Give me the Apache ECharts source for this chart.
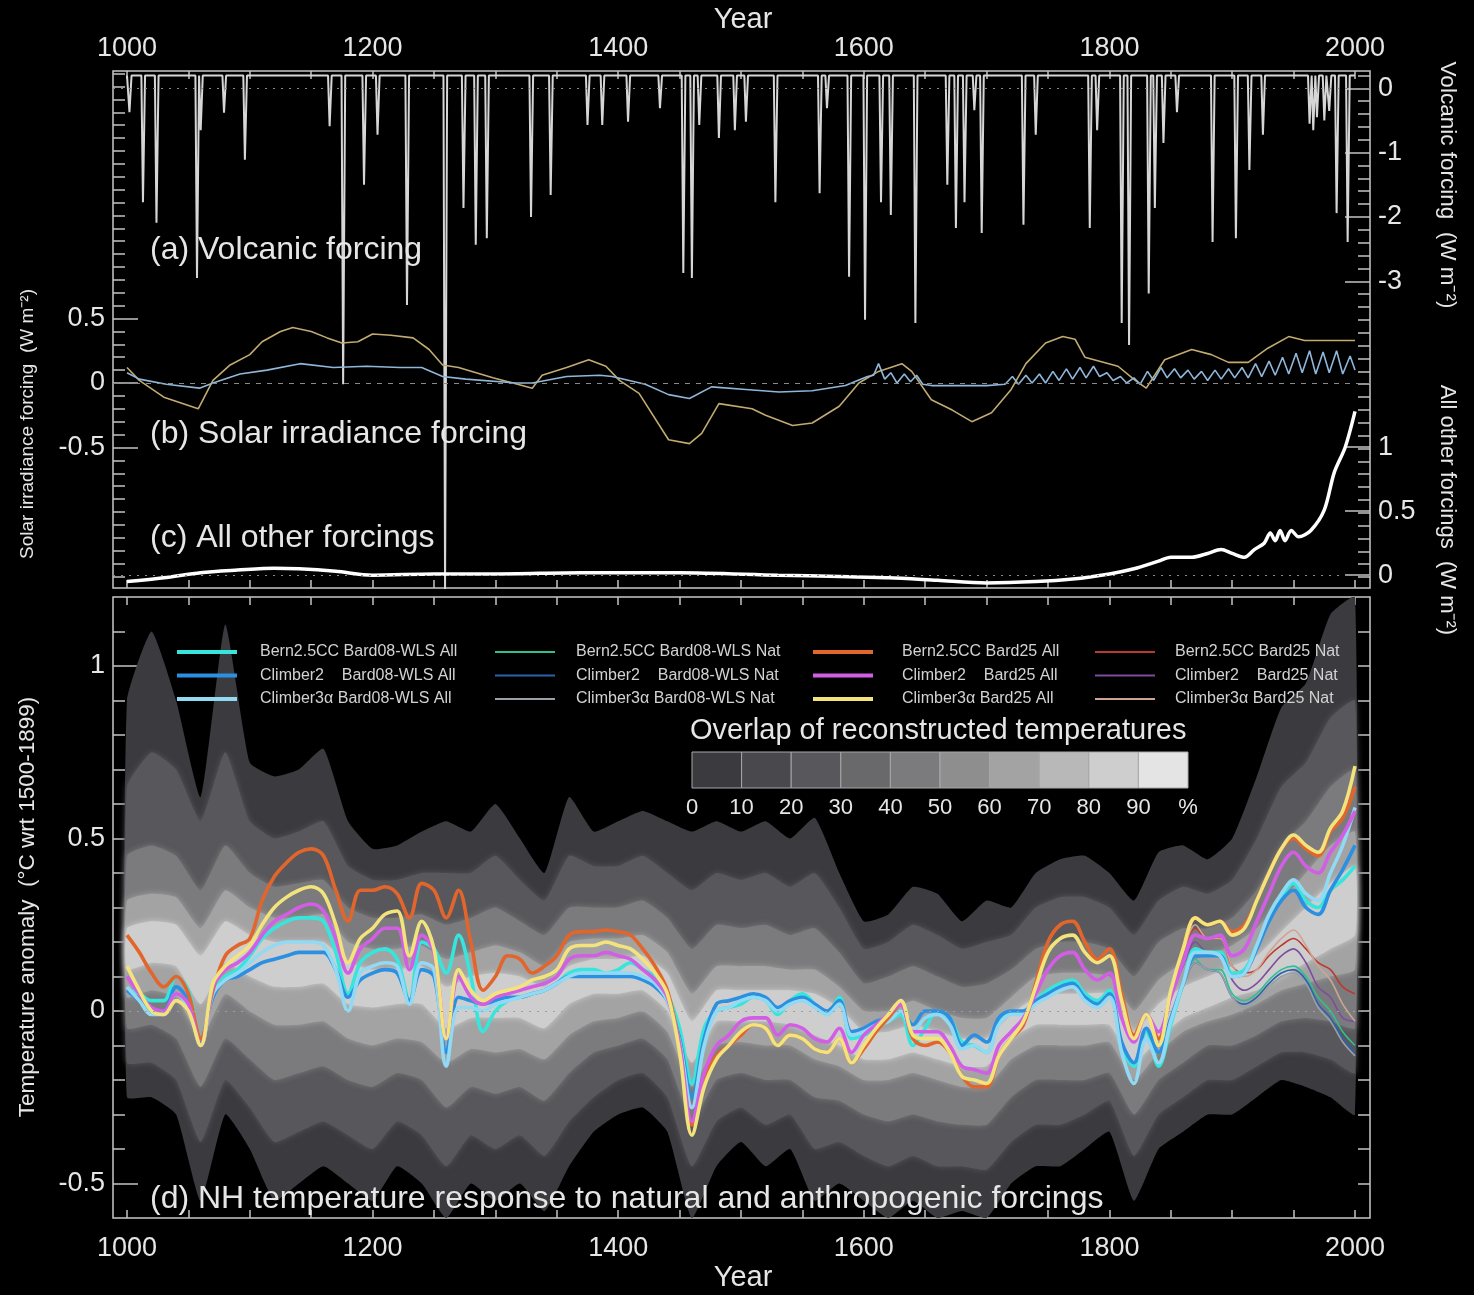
<!DOCTYPE html>
<html>
<head>
<meta charset="utf-8">
<script src="https://cdn.jsdelivr.net/npm/echarts@6/dist/echarts.min.js"></script>
<style>
  html, body { margin: 0; padding: 0; background: #000; }
  #chart { width: 1474px; height: 1295px; }
</style>
</head>
<body>
<div id="chart"></div>
<script>
// ---------------------------------------------------------------
// Forcings (panels a-c) and NH temperature response (panel d)
// ---------------------------------------------------------------

// axis ticks and labels
const yearLabels = [1000, 1200, 1400, 1600, 1800, 2000];
const yearTicks = [1000, 1050, 1100, 1150, 1200, 1250, 1300, 1350, 1400, 1450, 1500,
                   1550, 1600, 1650, 1700, 1750, 1800, 1850, 1900, 1950, 2000];
const solarLabels = [-0.5, 0, 0.5];
const volcLabels = [0, -1, -2, -3];
const otherLabels = [0, 0.5, 1];
const tempLabels = [-0.5, 0, 0.5, 1];
const overlapLabels = ['0', '10', '20', '30', '40', '50', '60', '70', '80', '90', '%'];

// (a) volcanic forcing: background level and eruption peaks [year, W m-2]
const volcBase = 0.2;
const volcEvents = [
  [1002, -0.37], [1013, -1.77], [1024, -2.09], [1057, -2.95], [1060, -0.65], [1079, -0.38],
  [1096, -1.11], [1165, -0.59], [1176, -4.6], [1193, -1.5], [1204, -0.72], [1228, -3.37],
  [1259, -7.8], [1274, -1.86], [1284, -2.43], [1293, -2.33], [1329, -2.0], [1345, -1.66],
  [1375, -0.57], [1387, -0.57], [1408, -0.52], [1434, -0.31], [1453, -2.87], [1460, -2.95],
  [1466, -0.57], [1482, -0.77], [1495, -0.65], [1504, -0.52], [1528, -1.77], [1564, -1.63],
  [1570, -0.31], [1588, -2.93], [1601, -3.6], [1614, -1.77], [1622, -1.97], [1642, -3.65],
  [1668, -1.5], [1675, -2.17], [1682, -1.77], [1690, -0.34], [1696, -2.25], [1730, -2.12],
  [1740, -0.72], [1784, -2.17], [1790, -0.65], [1810, -3.65], [1816, -3.99], [1832, -3.19],
  [1837, -1.86], [1844, -0.85], [1855, -0.37], [1884, -2.39], [1903, -2.33], [1914, -1.27],
  [1925, -0.72], [1963, -0.55], [1966, -0.65], [1969, -0.45], [1975, -0.5], [1979, -0.35],
  [1985, -1.94], [1994, -2.39]
];

// (b) solar irradiance forcing [year, W m-2]
const solarBard25 = [
  [1000, 0.12], [1010, 0.02], [1030, -0.11], [1058, -0.20], [1070, 0.02], [1084, 0.14],
  [1100, 0.22], [1110, 0.32], [1125, 0.40], [1135, 0.43], [1150, 0.40], [1163, 0.35],
  [1175, 0.31], [1188, 0.32], [1200, 0.38], [1215, 0.37], [1233, 0.35], [1246, 0.26],
  [1257, 0.14], [1270, 0.12], [1298, 0.04], [1318, -0.01], [1330, -0.04], [1338, 0.06],
  [1358, 0.12], [1376, 0.18], [1390, 0.13], [1401, 0.02], [1417, -0.08], [1441, -0.44],
  [1458, -0.47], [1468, -0.39], [1482, -0.16], [1509, -0.20], [1520, -0.25], [1542, -0.33],
  [1558, -0.31], [1580, -0.18], [1596, 0.0], [1612, 0.09], [1631, 0.15], [1639, 0.09],
  [1655, -0.13], [1672, -0.21], [1688, -0.30], [1704, -0.23], [1720, -0.05], [1732, 0.15],
  [1748, 0.31], [1762, 0.36], [1772, 0.34], [1780, 0.20], [1807, 0.13], [1821, 0.02],
  [1830, -0.04], [1845, 0.18], [1867, 0.26], [1883, 0.22], [1897, 0.16], [1913, 0.16],
  [1929, 0.27], [1946, 0.36], [1959, 0.33], [2000, 0.33]
];
const solarBard08 = [
  [1000, 0.08], [1010, 0.03], [1032, -0.01], [1059, -0.04], [1070, 0.0], [1092, 0.07],
  [1114, 0.10], [1141, 0.15], [1168, 0.12], [1195, 0.13], [1222, 0.12], [1240, 0.12],
  [1257, 0.05], [1276, 0.03], [1317, 0.0], [1330, 0.0], [1358, 0.05], [1385, 0.06],
  [1395, 0.05], [1422, -0.01], [1441, -0.09], [1458, -0.12], [1476, -0.03], [1504, -0.05],
  [1531, -0.07], [1558, -0.06], [1585, -0.02], [1603, 0.05], [1608, 0.06], [1612, 0.15],
  [1617, 0.03], [1622, 0.08], [1627, 0.0], [1633, 0.07], [1638, 0.01], [1643, 0.06],
  [1648, -0.01], [1655, -0.02], [1700, -0.02], [1715, -0.01], [1721, 0.05], [1726, -0.01],
  [1732, 0.06], [1737, 0.0], [1743, 0.07], [1748, 0.0], [1754, 0.09], [1759, 0.02],
  [1765, 0.11], [1770, 0.03], [1776, 0.12], [1781, 0.04], [1787, 0.13], [1792, 0.05],
  [1798, 0.08], [1803, 0.02], [1809, 0.05], [1814, 0.0], [1820, 0.04], [1825, -0.01],
  [1831, 0.09], [1836, 0.02], [1842, 0.12], [1847, 0.04], [1853, 0.11], [1858, 0.04],
  [1864, 0.10], [1869, 0.03], [1875, 0.09], [1880, 0.02], [1886, 0.10], [1891, 0.03],
  [1897, 0.11], [1902, 0.04], [1908, 0.12], [1913, 0.04], [1919, 0.15], [1924, 0.05],
  [1930, 0.17], [1935, 0.06], [1941, 0.20], [1946, 0.07], [1952, 0.23], [1957, 0.08],
  [1963, 0.25], [1968, 0.07], [1974, 0.24], [1979, 0.08], [1985, 0.25], [1990, 0.07],
  [1996, 0.21], [2000, 0.10]
];

// (c) all other forcings [year, W m-2]
const otherForcing = [
  [1000, -0.05], [1030, -0.02], [1060, 0.02], [1090, 0.04], [1120, 0.055], [1140, 0.05],
  [1170, 0.03], [1200, 0.0], [1250, 0.01], [1300, 0.01], [1370, 0.02], [1450, 0.02],
  [1530, 0.0], [1580, -0.01], [1620, -0.02], [1660, -0.04], [1700, -0.06], [1740, -0.05],
  [1770, -0.03], [1800, 0.01], [1820, 0.05], [1840, 0.11], [1850, 0.14], [1867, 0.14],
  [1880, 0.17], [1891, 0.20], [1900, 0.17], [1910, 0.14], [1918, 0.20], [1926, 0.25],
  [1931, 0.33], [1935, 0.27], [1939, 0.35], [1943, 0.27], [1948, 0.35], [1954, 0.30],
  [1964, 0.35], [1975, 0.51], [1983, 0.80], [1992, 1.0], [2000, 1.28]
];

// (d) simulated NH temperature anomaly, one value per decade 1000..2000 (°C)
const allBern08 = [
  0.06, 0.05, 0.03, 0.03, 0.10, 0.06, -0.08, 0.05, 0.10, 0.12,
  0.16, 0.21, 0.24, 0.26, 0.27, 0.27, 0.26, 0.17, 0.05, 0.14,
  0.17, 0.18, 0.15, 0.03, 0.20, 0.18, 0.11, 0.22, 0.10, -0.06,
  0.00, 0.03, 0.04, 0.05, 0.06, 0.08, 0.11, 0.12, 0.12, 0.11,
  0.12, 0.14, 0.12, 0.10, 0.05, -0.05, -0.21, -0.05, 0.00, 0.01,
  0.02, 0.04, 0.03, -0.01, 0.03, 0.05, 0.02, -0.01, 0.04, -0.08,
  -0.07, -0.05, -0.03, -0.01, -0.10, -0.05, 0.00, -0.02, -0.09, -0.10,
  -0.12, -0.03, 0.00, -0.01, 0.03, 0.06, 0.08, 0.09, 0.05, 0.03,
  0.06, -0.10, -0.16, -0.06, -0.16, -0.04, 0.08, 0.18, 0.17, 0.17,
  0.11, 0.12, 0.19, 0.27, 0.33, 0.37, 0.32, 0.30, 0.35, 0.38,
  0.42
];
const allClim2_08 = [
  0.06, 0.03, 0.00, 0.00, 0.07, 0.03, -0.08, 0.04, 0.09, 0.10,
  0.12, 0.14, 0.15, 0.16, 0.17, 0.17, 0.17, 0.12, 0.04, 0.09,
  0.11, 0.12, 0.11, 0.03, 0.12, 0.10, -0.12, 0.04, 0.03, 0.02,
  0.03, 0.04, 0.04, 0.05, 0.06, 0.08, 0.10, 0.10, 0.10, 0.10,
  0.10, 0.10, 0.09, 0.07, 0.03, -0.08, -0.25, -0.08, 0.02, 0.03,
  0.04, 0.05, 0.04, 0.01, 0.03, 0.04, 0.02, 0.00, 0.03, -0.06,
  -0.05, -0.03, -0.02, 0.00, -0.04, 0.00, 0.00, -0.02, -0.10, -0.07,
  -0.09, -0.02, 0.00, 0.00, 0.03, 0.05, 0.07, 0.08, 0.04, 0.02,
  0.05, -0.09, -0.15, -0.05, -0.12, -0.02, 0.08, 0.16, 0.16, 0.16,
  0.10, 0.11, 0.18, 0.26, 0.32, 0.35, 0.30, 0.28, 0.35, 0.41,
  0.48
];
const allClim3_08 = [
  0.07, 0.03, -0.01, -0.01, 0.05, 0.01, -0.10, 0.05, 0.09, 0.11,
  0.14, 0.17, 0.19, 0.20, 0.20, 0.20, 0.19, 0.12, 0.00, 0.11,
  0.13, 0.14, 0.13, 0.02, 0.14, 0.12, -0.16, 0.01, 0.01, 0.00,
  0.02, 0.03, 0.04, 0.05, 0.06, 0.08, 0.10, 0.11, 0.11, 0.11,
  0.11, 0.11, 0.10, 0.08, 0.03, -0.09, -0.28, -0.10, 0.00, 0.01,
  0.03, 0.04, 0.03, 0.00, 0.02, 0.03, 0.01, -0.01, 0.02, -0.07,
  -0.06, -0.04, -0.03, 0.00, -0.06, -0.02, -0.01, -0.04, -0.11, -0.10,
  -0.12, -0.04, -0.01, -0.01, 0.02, 0.04, 0.06, 0.07, 0.03, 0.01,
  0.04, -0.12, -0.21, -0.08, -0.15, -0.03, 0.08, 0.17, 0.17, 0.16,
  0.10, 0.11, 0.19, 0.28, 0.34, 0.38, 0.34, 0.32, 0.40, 0.48,
  0.59
];
const allBern25 = [
  0.22, 0.17, 0.11, 0.07, 0.10, 0.05, -0.08, 0.06, 0.16, 0.19,
  0.21, 0.32, 0.39, 0.43, 0.46, 0.47, 0.45, 0.35, 0.26, 0.35,
  0.35, 0.36, 0.34, 0.27, 0.37, 0.35, 0.27, 0.35, 0.20, 0.06,
  0.10, 0.16, 0.15, 0.11, 0.13, 0.16, 0.22, 0.23, 0.23, 0.235,
  0.23, 0.22, 0.18, 0.13, 0.06, -0.10, -0.33, -0.20, -0.13, -0.10,
  -0.07, -0.04, -0.05, -0.10, -0.07, -0.08, -0.11, -0.12, -0.08, -0.15,
  -0.11, -0.06, -0.02, 0.02, -0.08, -0.10, -0.09, -0.12, -0.19, -0.22,
  -0.22, -0.13, -0.08, -0.04, 0.08, 0.20, 0.25, 0.26, 0.20, 0.15,
  0.18, 0.05, -0.07, -0.01, -0.08, 0.05, 0.18, 0.27, 0.25, 0.26,
  0.23, 0.25, 0.32, 0.40, 0.47, 0.50, 0.47, 0.45, 0.52, 0.56,
  0.65
];
const allClim2_25 = [
  0.10, 0.05, 0.01, 0.00, 0.05, 0.02, -0.10, 0.07, 0.12, 0.14,
  0.17, 0.22, 0.26, 0.28, 0.30, 0.31, 0.29, 0.21, 0.11, 0.18,
  0.21, 0.24, 0.24, 0.12, 0.22, 0.17, -0.08, 0.10, 0.04, 0.02,
  0.04, 0.05, 0.06, 0.07, 0.08, 0.10, 0.15, 0.16, 0.16, 0.17,
  0.16, 0.15, 0.12, 0.09, 0.04, -0.10, -0.32, -0.18, -0.10, -0.07,
  -0.03, -0.02, -0.02, -0.07, -0.04, -0.05, -0.08, -0.09, -0.05, -0.12,
  -0.07, -0.04, -0.01, 0.02, -0.06, -0.06, -0.06, -0.10, -0.16, -0.17,
  -0.18, -0.10, -0.06, -0.02, 0.05, 0.12, 0.16, 0.17, 0.12, 0.09,
  0.11, -0.02, -0.09, -0.01, -0.06, 0.04, 0.14, 0.22, 0.21, 0.22,
  0.16, 0.18, 0.26, 0.34, 0.42, 0.46, 0.42, 0.40, 0.46, 0.51,
  0.58
];
const allClim3_25 = [
  0.13, 0.06, 0.00, -0.01, 0.03, 0.00, -0.10, 0.08, 0.13, 0.16,
  0.19, 0.25, 0.30, 0.33, 0.35, 0.36, 0.34, 0.25, 0.14, 0.21,
  0.24, 0.28, 0.29, 0.16, 0.26, 0.18, -0.08, 0.12, 0.06, 0.03,
  0.05, 0.06, 0.07, 0.09, 0.10, 0.12, 0.18, 0.19, 0.19, 0.20,
  0.19, 0.18, 0.15, 0.11, 0.05, -0.12, -0.36, -0.22, -0.14, -0.10,
  -0.06, -0.04, -0.05, -0.10, -0.07, -0.08, -0.11, -0.12, -0.08, -0.15,
  -0.10, -0.05, -0.01, 0.03, -0.07, -0.08, -0.08, -0.12, -0.19, -0.20,
  -0.21, -0.13, -0.08, -0.03, 0.07, 0.17, 0.21, 0.22, 0.17, 0.14,
  0.16, 0.03, -0.08, -0.01, -0.10, 0.06, 0.18, 0.27, 0.25, 0.26,
  0.22, 0.24, 0.32, 0.40, 0.47, 0.51, 0.48, 0.46, 0.53, 0.58,
  0.71
];

// natural-only runs, one value per decade 1850..2000 (°C)
const natBern08  = [-0.04, 0.07, 0.15, 0.12, 0.12, 0.05, 0.03, 0.05, 0.09, 0.12, 0.13, 0.10, 0.04, 0.00, -0.06, -0.10];
const natClim2_08 = [-0.02, 0.07, 0.14, 0.12, 0.11, 0.04, 0.02, 0.04, 0.08, 0.11, 0.12, 0.09, 0.02, -0.02, -0.08, -0.12];
const natClim3_08 = [-0.03, 0.07, 0.14, 0.12, 0.11, 0.04, 0.01, 0.03, 0.07, 0.10, 0.11, 0.08, 0.01, -0.03, -0.09, -0.13];
const natBern25  = [0.05, 0.17, 0.24, 0.21, 0.21, 0.13, 0.11, 0.12, 0.16, 0.19, 0.21, 0.18, 0.14, 0.12, 0.07, 0.05];
const natClim2_25 = [0.04, 0.13, 0.20, 0.17, 0.17, 0.09, 0.06, 0.08, 0.12, 0.16, 0.18, 0.14, 0.07, 0.04, -0.02, -0.03];
const natClim3_25 = [0.06, 0.17, 0.25, 0.21, 0.21, 0.13, 0.10, 0.12, 0.17, 0.21, 0.235, 0.19, 0.13, 0.09, 0.02, -0.03];

// overlap of reconstructed temperatures: envelope per overlap level, every 20 years 1000..2000
const overlap10Upper = [0.90, 1.10, 0.90, 0.62, 1.12, 0.72, 0.68, 0.70, 0.76, 0.55, 0.47, 0.48, 0.52, 0.55, 0.52, 0.60, 0.50, 0.40, 0.62, 0.52,
  0.55, 0.58, 0.55, 0.52, 0.55, 0.52, 0.55, 0.50, 0.56, 0.40, 0.26, 0.28, 0.36, 0.34, 0.26, 0.32, 0.30, 0.40, 0.44, 0.45,
  0.40, 0.32, 0.46, 0.48, 0.44, 0.50, 0.68, 0.88, 0.95, 1.15, 1.20];
const overlap10Lower = [-0.25, -0.25, -0.30, -0.55, -0.30, -0.40, -0.55, -0.50, -0.45, -0.50, -0.55, -0.45, -0.50, -0.60, -0.50, -0.55, -0.50, -0.58, -0.45, -0.35,
  -0.30, -0.28, -0.35, -0.60, -0.45, -0.38, -0.45, -0.40, -0.55, -0.50, -0.55, -0.60, -0.55, -0.60, -0.58, -0.60, -0.50, -0.45, -0.45, -0.40,
  -0.35, -0.55, -0.40, -0.35, -0.30, -0.30, -0.25, -0.20, -0.22, -0.25, -0.30];
const overlap30Upper = [0.65, 0.75, 0.70, 0.55, 0.75, 0.55, 0.50, 0.52, 0.55, 0.42, 0.38, 0.38, 0.40, 0.40, 0.40, 0.45, 0.38, 0.32, 0.45, 0.42,
  0.42, 0.45, 0.40, 0.35, 0.40, 0.38, 0.40, 0.36, 0.40, 0.30, 0.18, 0.20, 0.25, 0.22, 0.18, 0.20, 0.22, 0.30, 0.33, 0.33,
  0.30, 0.22, 0.32, 0.36, 0.34, 0.38, 0.50, 0.65, 0.72, 0.85, 0.90];
const overlap30Lower = [-0.15, -0.15, -0.20, -0.38, -0.20, -0.28, -0.38, -0.35, -0.32, -0.36, -0.40, -0.32, -0.36, -0.45, -0.36, -0.40, -0.36, -0.42, -0.32, -0.25,
  -0.20, -0.18, -0.25, -0.45, -0.32, -0.28, -0.33, -0.30, -0.40, -0.38, -0.42, -0.45, -0.42, -0.45, -0.45, -0.46, -0.38, -0.33, -0.33, -0.30,
  -0.26, -0.42, -0.30, -0.25, -0.20, -0.20, -0.16, -0.12, -0.12, -0.14, -0.18];
const overlap50Upper = [0.45, 0.48, 0.45, 0.35, 0.48, 0.40, 0.36, 0.37, 0.38, 0.30, 0.27, 0.27, 0.28, 0.25, 0.27, 0.30, 0.26, 0.22, 0.30, 0.30,
  0.30, 0.32, 0.27, 0.18, 0.25, 0.24, 0.25, 0.22, 0.24, 0.17, 0.08, 0.10, 0.13, 0.10, 0.07, 0.08, 0.12, 0.18, 0.20, 0.20,
  0.18, 0.10, 0.20, 0.24, 0.24, 0.27, 0.35, 0.48, 0.55, 0.65, 0.70];
const overlap50Lower = [-0.05, -0.04, -0.08, -0.22, -0.08, -0.14, -0.20, -0.18, -0.16, -0.20, -0.22, -0.18, -0.20, -0.28, -0.22, -0.24, -0.22, -0.26, -0.18, -0.12,
  -0.10, -0.08, -0.14, -0.32, -0.20, -0.18, -0.20, -0.20, -0.25, -0.26, -0.30, -0.32, -0.30, -0.32, -0.33, -0.33, -0.25, -0.20, -0.20, -0.20,
  -0.18, -0.30, -0.20, -0.15, -0.10, -0.10, -0.07, -0.03, -0.02, -0.03, -0.05];
const overlap70Upper = [0.32, 0.34, 0.33, 0.24, 0.35, 0.30, 0.27, 0.27, 0.28, 0.20, 0.18, 0.18, 0.19, 0.15, 0.17, 0.19, 0.17, 0.13, 0.20, 0.21,
  0.21, 0.22, 0.17, 0.05, 0.13, 0.13, 0.13, 0.12, 0.12, 0.07, 0.00, 0.00, 0.03, 0.00, -0.02, -0.02, 0.04, 0.10, 0.11, 0.11,
  0.10, 0.00, 0.09, 0.14, 0.16, 0.19, 0.24, 0.32, 0.40, 0.48, 0.52];
const overlap70Lower = [0.04, 0.06, 0.04, -0.08, 0.05, 0.00, -0.04, -0.04, -0.03, -0.08, -0.10, -0.08, -0.09, -0.15, -0.11, -0.12, -0.11, -0.14, -0.07, -0.03,
  -0.02, 0.00, -0.06, -0.22, -0.10, -0.09, -0.10, -0.10, -0.14, -0.16, -0.20, -0.20, -0.18, -0.20, -0.22, -0.22, -0.14, -0.10, -0.10, -0.10,
  -0.09, -0.20, -0.12, -0.06, -0.03, -0.01, 0.02, 0.06, 0.08, 0.10, 0.12];
const overlap90Upper = [0.24, 0.26, 0.25, 0.16, 0.26, 0.22, 0.20, 0.20, 0.20, 0.14, 0.12, 0.12, 0.13, 0.07, 0.10, 0.11, 0.10, 0.07, 0.13, 0.15,
  0.15, 0.16, 0.11, -0.03, 0.06, 0.06, 0.06, 0.06, 0.05, 0.01, -0.06, -0.06, -0.04, -0.06, -0.08, -0.08, -0.01, 0.04, 0.05, 0.05,
  0.05, -0.06, 0.02, 0.07, 0.10, 0.13, 0.16, 0.23, 0.30, 0.37, 0.42];
const overlap90Lower = [0.12, 0.14, 0.13, 0.02, 0.14, 0.10, 0.07, 0.07, 0.08, 0.02, 0.01, 0.02, 0.02, -0.05, -0.02, -0.02, -0.02, -0.05, 0.02, 0.05,
  0.05, 0.06, 0.00, -0.15, -0.03, -0.03, -0.03, -0.04, -0.07, -0.10, -0.14, -0.14, -0.12, -0.14, -0.16, -0.16, -0.08, -0.04, -0.04, -0.04,
  -0.04, -0.15, -0.08, -0.02, 0.01, 0.04, 0.06, 0.10, 0.14, 0.18, 0.22];

// overlap colour scale, 0-10 % ... 90-100 %
const overlapColors = ['#3a3a3f', '#48484d', '#58585c', '#69696c', '#7b7b7d', '#8e8e8f', '#a3a3a3', '#b8b8b8', '#cecece', '#e4e4e4'];

// ---------------------------------------------------------------
const FONT = '"Liberation Sans", Arial, Helvetica, sans-serif';
const TXT = '#e6e6e6';
const TICK = '#c4c4c4';
const X_MIN = 988.6, X_MAX = 2012.2;

function range(a, b, step) {
  const out = [];
  for (let v = a; v <= b + 1e-9; v += step) out.push(Math.round(v * 1000) / 1000);
  return out;
}
const decadeYears = range(1000, 2000, 10);
const natYears = range(1850, 2000, 10);
const bandYears = range(1000, 2000, 20);

const pair = (xs, ys) => xs.map((x, i) => [x, ys[i]]);
const plain = v => String(v);

// eruption spikes drawn as narrow V shapes on the background level
function volcanicPath() {
  const pts = [[1000, volcBase]];
  volcEvents.forEach(([yr, f]) => {
    pts.push([yr - 1.3, volcBase], [yr, f], [yr + 1.7, volcBase]);
  });
  pts.push([2000, volcBase]);
  return pts;
}

function xAxis(grid, pos, labels, margin) {
  return {
    type: 'value', gridIndex: grid, position: pos, min: X_MIN, max: X_MAX,
    axisLine: { show: false, onZero: false },
    splitLine: { show: false },
    axisTick: { show: true, inside: true, length: 8, customValues: yearTicks, lineStyle: { color: TICK, width: 1.5 } },
    axisLabel: labels ? { show: true, customValues: labels, formatter: plain, color: TXT, fontSize: 27, fontFamily: FONT, margin: margin } : { show: false }
  };
}
function yAxis(grid, pos, min, max, ticks, len, labels) {
  return {
    type: 'value', gridIndex: grid, position: pos, min: min, max: max,
    axisLine: { show: false, onZero: false },
    splitLine: { show: false },
    axisTick: { show: true, inside: true, length: len, customValues: ticks, lineStyle: { color: TICK, width: 1.5 } },
    axisLabel: labels ? { show: true, customValues: labels, formatter: plain, color: TXT, fontSize: 27, fontFamily: FONT, margin: 8 } : { show: false }
  };
}

const zeroLine = (color, type) => ({
  silent: true, symbol: 'none', label: { show: false },
  lineStyle: { color: color, type: type, width: 1.2 },
  data: [{ yAxis: 0 }]
});

function bandSeries(upper, lower, color, blur) {
  return {
    type: 'custom', xAxisIndex: 2, yAxisIndex: 5, z: 1, silent: true, clip: true,
    data: [[bandYears[0], 0]],
    encode: { x: 0, y: 1 },
    renderItem: function (params, api) {
      const pts = [];
      for (let i = 0; i < bandYears.length; i++) pts.push(api.coord([bandYears[i], upper[i]]));
      for (let i = bandYears.length - 1; i >= 0; i--) pts.push(api.coord([bandYears[i], lower[i]]));
      return { type: 'polygon', shape: { points: pts, smooth: 0.15 },
        style: { fill: color, shadowBlur: blur, shadowColor: color } };
    }
  };
}

function tempLine(name, years, values, color, width, z) {
  return {
    name: name, type: 'line', xAxisIndex: 2, yAxisIndex: 5, z: z,
    data: pair(years, values), symbol: 'none', smooth: 0.35,
    lineStyle: { color: color, width: width }, itemStyle: { color: color },
    emphasis: { disabled: true }
  };
}

const names = {
  bern08: 'Bern2.5CC Bard08-WLS All', clim2_08: 'Climber2    Bard08-WLS All', clim3_08: 'Climber3\u03b1 Bard08-WLS All',
  bern08n: 'Bern2.5CC Bard08-WLS Nat', clim2_08n: 'Climber2    Bard08-WLS Nat', clim3_08n: 'Climber3\u03b1 Bard08-WLS Nat',
  bern25: 'Bern2.5CC Bard25 All', clim2_25: 'Climber2    Bard25 All', clim3_25: 'Climber3\u03b1 Bard25 All',
  bern25n: 'Bern2.5CC Bard25 Nat', clim2_25n: 'Climber2    Bard25 Nat', clim3_25n: 'Climber3\u03b1 Bard25 Nat'
};

const series = [
  // (a) volcanic
  { type: 'line', xAxisIndex: 0, yAxisIndex: 2, data: volcanicPath(), symbol: 'none', z: 3,
    lineStyle: { color: '#d6d6d6', width: 2 }, markLine: zeroLine('#8a8a8a', [2, 6]) },
  // (b) solar
  { type: 'line', xAxisIndex: 0, yAxisIndex: 0, data: solarBard25, symbol: 'none', z: 3,
    lineStyle: { color: '#c2ab70', width: 1.6 }, markLine: zeroLine('#8a8a8a', [5, 6]) },
  { type: 'line', xAxisIndex: 0, yAxisIndex: 0, data: solarBard08, symbol: 'none', z: 3,
    lineStyle: { color: '#8fb7da', width: 1.6 } },
  // (c) all other forcings
  { type: 'line', xAxisIndex: 0, yAxisIndex: 4, data: otherForcing, symbol: 'none', smooth: 0.3, z: 3,
    lineStyle: { color: '#ffffff', width: 3.5 }, markLine: zeroLine('#8a8a8a', [2, 6]) },
  // (d) overlap of reconstructions
  bandSeries(overlap10Upper, overlap10Lower, overlapColors[0], 0),
  bandSeries(overlap30Upper, overlap30Lower, overlapColors[2], 6),
  bandSeries(overlap50Upper, overlap50Lower, overlapColors[4], 6),
  bandSeries(overlap70Upper, overlap70Lower, overlapColors[6], 6),
  bandSeries(overlap90Upper, overlap90Lower, overlapColors[8], 6),
  // natural-only simulations
  Object.assign(tempLine(names.bern08n, natYears, natBern08, '#2fbf92', 1.6, 3), { markLine: zeroLine('#a0a0a0', [2, 6]) }),
  tempLine(names.clim2_08n, natYears, natClim2_08, '#2c62ab', 1.6, 3),
  tempLine(names.clim3_08n, natYears, natClim3_08, '#98a0a8', 1.6, 3),
  tempLine(names.bern25n, natYears, natBern25, '#bb3a30', 1.6, 3),
  tempLine(names.clim2_25n, natYears, natClim2_25, '#7d4e9e', 1.6, 3),
  tempLine(names.clim3_25n, natYears, natClim3_25, '#cda592', 1.6, 3),
  // all-forcing simulations
  tempLine(names.bern08, decadeYears, allBern08, '#36e6dc', 3.6, 4),
  tempLine(names.clim2_08, decadeYears, allClim2_08, '#2b8fe2', 3.6, 4),
  tempLine(names.clim3_08, decadeYears, allClim3_08, '#92d9f3', 3.6, 4),
  tempLine(names.bern25, decadeYears, allBern25, '#e2662c', 3.6, 4),
  tempLine(names.clim2_25, decadeYears, allClim2_25, '#d35ee6', 3.6, 4),
  tempLine(names.clim3_25, decadeYears, allClim3_25, '#f3e37c', 3.6, 4)
];

const legendCols = [
  [names.bern08, names.clim2_08, names.clim3_08],
  [names.bern08n, names.clim2_08n, names.clim3_08n],
  [names.bern25, names.clim2_25, names.clim3_25],
  [names.bern25n, names.clim2_25n, names.clim3_25n]
];
const legendLeft = [172, 490, 808, 1090];
const legendPad = [18, 16, 24, 15];
const legendThick = [4, 2, 4, 2];

// colour bar
const cbX = 692, cbY = 752, cbW = 49.6, cbH = 36;
const graphics = [];
overlapColors.forEach((c, i) => {
  graphics.push({ type: 'rect', z: 20, shape: { x: cbX + i * cbW, y: cbY, width: cbW, height: cbH },
    style: { fill: c, stroke: '#a8a8a8', lineWidth: 1 } });
});
overlapLabels.forEach((t, i) => {
  graphics.push({ type: 'text', z: 20, x: cbX + i * cbW, y: 808,
    style: { text: t, fill: TXT, font: '22px ' + FONT, textAlign: 'center', textVerticalAlign: 'middle', align: 'center', verticalAlign: 'middle' } });
});
function label(text, x, y, size, align, rot) {
  return { type: 'text', z: 20, x: x, y: y, rotation: rot || 0,
    style: { text: text, fill: TXT, font: size + 'px ' + FONT, textAlign: align, textVerticalAlign: 'middle', align: align, verticalAlign: 'middle' } };
}
graphics.push(
  label('Overlap of reconstructed temperatures', 690, 731, 29, 'left'),
  label('Year', 743, 20, 29, 'center'),
  label('Year', 743, 1278, 29, 'center'),
  label('(a) Volcanic forcing', 150, 250, 32, 'left'),
  label('(b) Solar irradiance forcing', 150, 434, 32, 'left'),
  label('(c) All other forcings', 150, 538, 32, 'left'),
  label('(d) NH temperature response to natural and anthropogenic forcings', 150, 1199, 32, 'left'),
  label('Solar irradiance forcing  (W m\u207b\u00b2)', 28, 424, 19, 'center', Math.PI / 2),
  label('Temperature anomaly  (\u00b0C wrt 1500-1899)', 28, 907, 22.5, 'center', Math.PI / 2),
  label('Volcanic forcing  (W m\u207b\u00b2)', 1447, 185, 22.5, 'center', -Math.PI / 2),
  label('All other forcings  (W m\u207b\u00b2)', 1447, 510, 22, 'center', -Math.PI / 2)
);

const option = {
  backgroundColor: '#000000',
  animation: false,
  grid: [
    { left: 113, top: 71, width: 1257, height: 517, show: true, borderColor: '#c8c8c8', borderWidth: 1.5, backgroundColor: 'transparent' },
    { left: 113, top: 597, width: 1257, height: 621, show: true, borderColor: '#c8c8c8', borderWidth: 1.5, backgroundColor: 'transparent' }
  ],
  xAxis: [
    xAxis(0, 'top', yearLabels, 9),
    xAxis(0, 'bottom', null, 0),
    xAxis(1, 'bottom', yearLabels, 17),
    xAxis(1, 'top', null, 0)
  ],
  yAxis: [
    yAxis(0, 'left', -1.59, 2.42, solarLabels, 25, solarLabels),
    yAxis(0, 'left', -1.59, 2.42, range(-1.5, 2.4, 0.1), 12, null),
    yAxis(0, 'right', -7.77, 0.27, volcLabels, 25, volcLabels),
    yAxis(0, 'right', -7.77, 0.27, range(-7.6, 0.2, 0.2), 12, null),
    yAxis(0, 'right', -0.10, 3.94, otherLabels, 25, otherLabels),
    yAxis(1, 'left', -0.6, 1.2, tempLabels, 25, tempLabels),
    yAxis(1, 'left', -0.6, 1.2, range(-0.5, 1.1, 0.1), 12, null),
    yAxis(1, 'right', -0.6, 1.2, range(-0.5, 1.1, 0.1), 12, null)
  ],
  legend: legendCols.map((col, i) => ({
    orient: 'vertical', left: legendLeft[i], top: 639, icon: 'rect',
    itemWidth: 60, itemHeight: legendThick[i], itemGap: 7.5,
    selectedMode: false, data: col,
    textStyle: { color: '#d2d2d2', fontSize: 16, lineHeight: 14, fontFamily: FONT, padding: [0, 0, 0, legendPad[i]] }
  })),
  graphic: graphics,
  series: series
};

const chart = echarts.init(document.getElementById('chart'));
chart.setOption(option);
</script>
</body>
</html>
